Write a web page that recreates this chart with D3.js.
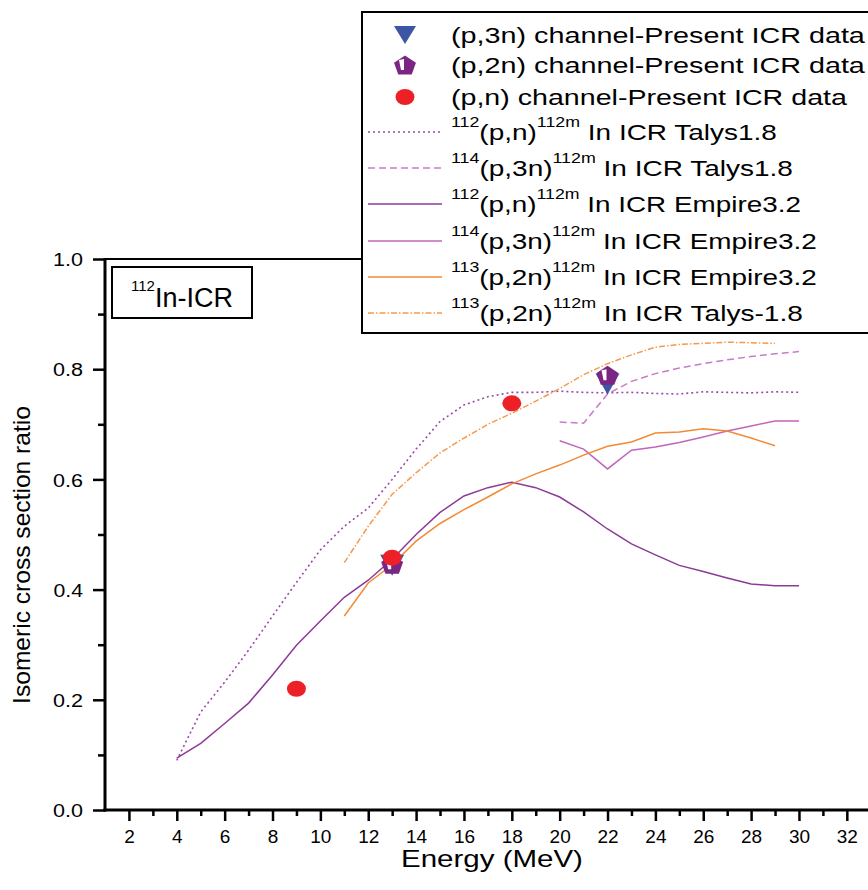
<!DOCTYPE html>
<html><head><meta charset="utf-8">
<script src="https://cdn.jsdelivr.net/npm/d3@7"></script>
<style>
html,body{margin:0;padding:0;background:#fff;}
text{font-family:"Liberation Sans",Arial,sans-serif;fill:#000;}
</style></head>
<body>
<svg id="chart" width="868" height="890"></svg>
<script>
// ---------- DATA ----------
const energyTalysPn = [4,5,6,7,8,9,10,11,12,13,14,15,16,17,18,19,20,21,22,23,24,25,26,27,28,29,30];
const talysPn =       [0.090,0.178,0.232,0.290,0.352,0.413,0.472,0.515,0.548,0.600,0.655,0.705,0.735,0.750,0.758,0.758,0.760,0.758,0.757,0.758,0.756,0.755,0.759,0.758,0.757,0.759,0.758];

const energyTalysP3n = [20,21,22,23,24,25,26,27,28,29,30];
const talysP3n =       [0.704,0.702,0.755,0.778,0.792,0.802,0.810,0.817,0.823,0.828,0.832];

const energyEmpirePn = [4,5,6,7,8,9,10,11,12,13,14,15,16,17,18,19,20,21,22,23,24,25,26,27,28,29,30];
const empirePn =       [0.094,0.121,0.157,0.194,0.245,0.299,0.343,0.386,0.417,0.455,0.500,0.540,0.570,0.585,0.595,0.585,0.568,0.541,0.510,0.483,0.463,0.444,0.433,0.421,0.410,0.407,0.407];

const energyEmpireP3n = [20,21,22,23,24,25,26,27,28,29,30];
const empireP3n =       [0.670,0.655,0.619,0.653,0.659,0.667,0.677,0.688,0.697,0.706,0.706];

const energyEmpireP2n = [11,12,13,14,15,16,17,18,19,20,21,22,23,24,25,26,27,28,29];
const empireP2n =       [0.352,0.412,0.445,0.488,0.520,0.545,0.568,0.592,0.610,0.626,0.644,0.660,0.668,0.684,0.686,0.692,0.688,0.675,0.661];

const energyTalysP2n = [11,12,13,14,15,16,17,18,19,20,21,22,23,24,25,26,27,28,29];
const talysP2n =       [0.449,0.515,0.573,0.612,0.648,0.675,0.700,0.720,0.742,0.765,0.790,0.810,0.826,0.840,0.845,0.847,0.849,0.848,0.847];

const expP3nE = [13,22];     const expP3n = [0.445,0.774];
const expP2nE = [13,22];     const expP2n = [0.446,0.789];
const expPnE  = [9,13,18];   const expPn  = [0.220,0.458,0.738];

const xTicks = [2,4,6,8,10,12,14,16,18,20,22,24,26,28,30,32];
const yTicks = [0.0,0.2,0.4,0.6,0.8,1.0];

// ---------- STYLE ----------
const C = {
  talysPn:"#9c48ab", talysP3n:"#c97ac9", empirePn:"#8c3a97", empireP3n:"#c266ba",
  empireP2n:"#f28a35", talysP2n:"#f49a4f", red:"#ee2027", pent:"#7a2682", tri:"#3d55a5"
};

const svg = d3.select("#chart");
const x = d3.scaleLinear().domain([1,33]).range([105, 105+32*23.93]);
const y = d3.scaleLinear().domain([0,1]).range([810, 259]);

function fit(sel, target, anchorX){
  const w = sel.node().getBBox().width;
  const k = target / w;
  sel.attr("transform", `translate(${anchorX},0) scale(${k},1) translate(${-anchorX},0)`);
}

// frame top line
svg.append("line").attr("x1",105).attr("x2",868).attr("y1",259).attr("y2",259).attr("stroke","#000").attr("stroke-width",2);

// x axis ticks
const xAxis = d3.axisBottom(x).tickValues(d3.range(2,34)).tickSize(0).tickFormat("");
const gx = svg.append("g").attr("transform","translate(0,810)").call(xAxis);
gx.select(".domain").remove();
gx.selectAll(".tick").each(function(d){
  const g = d3.select(this);
  const major = xTicks.includes(d);
  g.append("line").attr("y1",0).attr("y2", major?11:6).attr("stroke","#000").attr("stroke-width",2.5);
  if (major) g.append("text").attr("y",33).attr("text-anchor","middle").style("font-size","19px").text(d);
});

// y axis ticks
const yAxis = d3.axisLeft(y).tickValues(d3.range(0,11).map(i=>i/10)).tickSize(0).tickFormat("");
const gy = svg.append("g").attr("transform","translate(105,0)").call(yAxis);
gy.select(".domain").remove();
gy.selectAll(".tick").each(function(d,i){
  const g = d3.select(this);
  const major = i % 2 === 0;
  g.append("line").attr("x1",0).attr("x2", major?-12:-7).attr("stroke","#000").attr("stroke-width",2.5);
  if (major) {
    const t = g.append("text").attr("x",-22).attr("dy","0.35em").attr("text-anchor","end").style("font-size","19px").text(d3.format(".1f")(yTicks[i/2]));
    fit(t, 30, -22);
  }
});
svg.append("line").attr("x1",105).attr("x2",105).attr("y1",258).attr("y2",811.5).attr("stroke","#000").attr("stroke-width",3);
svg.append("line").attr("x1",103.5).attr("x2",868).attr("y1",810).attr("y2",810).attr("stroke","#000").attr("stroke-width",3);

// axis titles
const xt = svg.append("text").attr("x",492).attr("y",867).attr("text-anchor","middle").style("font-size","24px").text("Energy (MeV)");
fit(xt, 182, 492);
const ytg = svg.append("g").attr("transform","translate(30,555) rotate(-90)");
const yt = ytg.append("text").attr("x",0).attr("y",0).attr("text-anchor","middle").style("font-size","23px").text("Isomeric cross section ratio");
fit(yt, 298, 0);

// lines
const line = d3.line().x(d=>x(d[0])).y(d=>y(d[1]));
const series = [
  {e:energyTalysPn, v:talysPn, c:C.talysPn, dash:"2,3", w:1.6},
  {e:energyTalysP3n, v:talysP3n, c:C.talysP3n, dash:"7,4", w:1.5},
  {e:energyEmpirePn, v:empirePn, c:C.empirePn, dash:null, w:1.5},
  {e:energyEmpireP3n, v:empireP3n, c:C.empireP3n, dash:null, w:1.5},
  {e:energyEmpireP2n, v:empireP2n, c:C.empireP2n, dash:null, w:1.5},
  {e:energyTalysP2n, v:talysP2n, c:C.talysP2n, dash:"6,2,1.5,2", w:1.5}
];
series.forEach(s=>{
  svg.append("path").datum(s.e.map((e,i)=>[e,s.v[i]])).attr("d",line)
    .attr("fill","none").attr("stroke",s.c).attr("stroke-width",s.w)
    .attr("stroke-dasharray",s.dash);
});

// markers
function tri(g){ g.append("path").attr("d","M-12,-10 L12,-10 L0,11 Z").attr("fill",C.tri); }
function pent(g){
  const pts = d3.range(5).map(i=>{const a=-Math.PI/2+i*2*Math.PI/5; return [11.5*Math.cos(a), 10.5*Math.sin(a)+1];});
  g.append("polygon").attr("points",pts.map(p=>p.join(",")).join(" ")).attr("fill",C.pent);
  g.append("polygon").attr("points","-6,-5 -1,-6 -1,5 -4,5").attr("fill","#fff");
}
function circ(g){ g.append("ellipse").attr("rx",9.5).attr("ry",8).attr("fill",C.red); }

expP3nE.forEach((e,i)=>{ const g=svg.append("g").attr("transform",`translate(${x(e)},${y(expP3n[i])})`); tri(g); });
expP2nE.forEach((e,i)=>{ const g=svg.append("g").attr("transform",`translate(${x(e)},${y(expP2n[i])})`); pent(g); });
expPnE.forEach((e,i)=>{ const g=svg.append("g").attr("transform",`translate(${x(e)},${y(expPn[i])})`); circ(g); });

// annotation box
svg.append("rect").attr("x",112).attr("y",267).attr("width",140).attr("height",51).attr("fill","#fff").attr("stroke","#000").attr("stroke-width",2);
const at = svg.append("text").attr("x",131).attr("y",307);
at.append("tspan").style("font-size","15px").attr("dy",-16).text("112");
at.append("tspan").style("font-size","27px").attr("dy",16).text("In-ICR");
fit(at, 102, 131);

// legend
svg.append("rect").attr("x",362).attr("y",12).attr("width",600).attr("height",321).attr("fill","#fff").attr("stroke","#000").attr("stroke-width",2);
const legendRows = [
  {type:"tri", pre:null, main:"(p,3n) channel-Present ICR data", w:415},
  {type:"pent", pre:null, main:"(p,2n) channel-Present ICR data", w:415},
  {type:"circ", pre:null, main:"(p,n) channel-Present ICR data", w:397},
  {type:"line", s:0, pre:"112", r:"(p,n)", post:"In ICR Talys1.8", w:326},
  {type:"line", s:1, pre:"114", r:"(p,3n)", post:"In ICR Talys1.8", w:342},
  {type:"line", s:2, pre:"112", r:"(p,n)", post:"In ICR Empire3.2", w:350},
  {type:"line", s:3, pre:"114", r:"(p,3n)", post:"In ICR Empire3.2", w:366},
  {type:"line", s:4, pre:"113", r:"(p,2n)", post:"In ICR Empire3.2", w:366},
  {type:"line", s:5, pre:"113", r:"(p,2n)", post:"In ICR Talys-1.8", w:352}
];
const rowY = [35,65,97,132,168,204,241,277,313];
legendRows.forEach((r,i)=>{
  const cy = rowY[i];
  if (r.type==="tri"){ const g=svg.append("g").attr("transform",`translate(405,${cy})`); g.append("path").attr("d","M-11,-9 L11,-9 L0,9 Z").attr("fill",C.tri); }
  else if (r.type==="pent"){ const g=svg.append("g").attr("transform",`translate(405,${cy})`); pent(g); }
  else if (r.type==="circ"){ const g=svg.append("g").attr("transform",`translate(405,${cy})`); g.append("ellipse").attr("rx",9.5).attr("ry",8).attr("fill",C.red); }
  else {
    const s = series[r.s];
    svg.append("line").attr("x1",368).attr("x2",442).attr("y1",cy).attr("y2",cy)
      .attr("stroke",s.c).attr("stroke-width",1.5).attr("stroke-dasharray",s.dash);
  }
  const t = svg.append("text").attr("x",451).attr("y",cy+8).style("font-size","22px");
  if (r.pre===null){ t.text(r.main); }
  else {
    t.append("tspan").style("font-size","14px").attr("dy",-13).text(r.pre);
    t.append("tspan").attr("dy",13).text(r.r);
    t.append("tspan").style("font-size","14px").attr("dy",-13).text("112m");
    t.append("tspan").attr("dy",13).text(" " + r.post);
  }
  fit(t, r.w, 451);
});
</script>
</body></html>
